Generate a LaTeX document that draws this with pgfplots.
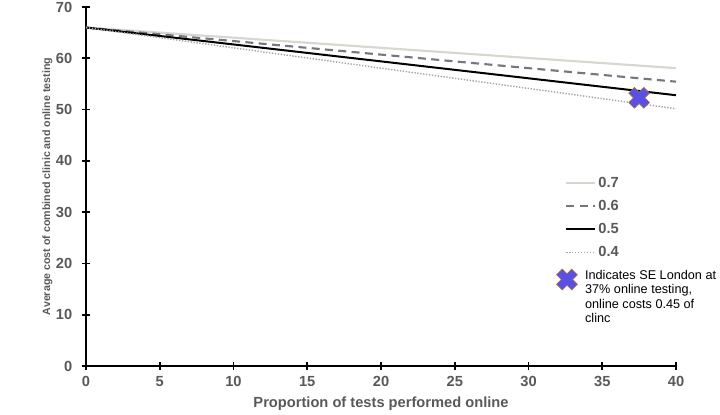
\documentclass[border=0pt]{standalone}
\usepackage{pgfplots}
\pgfplotsset{compat=1.18}
\usepackage{fontspec}
\setmainfont{Liberation Sans}
\definecolor{tickgray}{HTML}{595959}
\definecolor{l7}{HTML}{D9D5CF}
\definecolor{l6}{HTML}{767680}
\definecolor{l4}{HTML}{A6A6A6}
\definecolor{xblue}{HTML}{5A50E6}
\definecolor{xbrown}{HTML}{A0703A}
\pgfdeclareplotmark{fatx}{%
  \pgftransformrotate{45}%
  \pgfpathmoveto{\pgfpoint{3pt}{8pt}}%
  \pgfpathlineto{\pgfpoint{3pt}{3pt}}%
  \pgfpathlineto{\pgfpoint{8pt}{3pt}}%
  \pgfpathlineto{\pgfpoint{8pt}{-3pt}}%
  \pgfpathlineto{\pgfpoint{3pt}{-3pt}}%
  \pgfpathlineto{\pgfpoint{3pt}{-8pt}}%
  \pgfpathlineto{\pgfpoint{-3pt}{-8pt}}%
  \pgfpathlineto{\pgfpoint{-3pt}{-3pt}}%
  \pgfpathlineto{\pgfpoint{-8pt}{-3pt}}%
  \pgfpathlineto{\pgfpoint{-8pt}{3pt}}%
  \pgfpathlineto{\pgfpoint{-3pt}{3pt}}%
  \pgfpathlineto{\pgfpoint{-3pt}{8pt}}%
  \pgfpathclose
  \pgfusepathqfillstroke}
\pgfplotsset{
  lineimg/.style={legend image code/.code={\draw[##1] plot coordinates {(0cm,0cm) (0.75cm,0cm)};}},
  markimg/.style={legend image code/.code={\draw[##1,overlay,xshift=-8pt,yshift=-1.5pt] plot coordinates {(0.3cm,0cm)};}},
}
\begin{document}
\begin{tikzpicture}
\useasboundingbox (-64.5pt,-36pt) rectangle (475.5pt,274.5pt);
\begin{axis}[
  at={(0,0)}, anchor=origin,
  scale only axis, width=442.5pt, height=269.25pt,
  xmin=0, xmax=40, ymin=0, ymax=70,
  xtick={0,5,...,40}, ytick={0,10,...,70},
  axis x line*=bottom, axis y line*=left,
  axis line style={black, line width=1.5pt, -},
  xtick style={black, line width=1.2pt},
  ytick style={black, line width=1.2pt},
  xtick align=center, ytick align=center, major tick length=5.5pt,
  minor tick num=0,
  /pgf/number format/assume math mode=true,
  ticklabel style={font=\fontsize{11}{13}\selectfont\bfseries, text=tickgray},
  xticklabel style={yshift=-1.5pt},
  yticklabel style={xshift=-4pt},
  xlabel={Proportion of tests performed online},
  xlabel style={font=\fontsize{11}{13}\selectfont\bfseries, text=tickgray, at={(axis description cs:0.5,0)}, anchor=center, yshift=-28.5pt},
  ylabel={Average cost of combined clinic and online testing},
  ylabel style={font=\fontsize{8}{10}\selectfont\bfseries, text=tickgray, at={(axis description cs:0,0.5)}, anchor=center, yshift=29pt},
  legend cell align=left,
  legend style={draw=none, fill=none, at={(axis cs:32.47,37.45)}, anchor=north west,
    font=\fontsize{11}{13}\selectfont\bfseries, text=tickgray,
    row sep=4.2pt, inner sep=0pt},
  lineimg,
]
\addplot[l7, line width=1.6pt] coordinates {(0,66) (40,58.08)};
\addlegendentry{0.7}
\addplot[l6, line width=1.6pt, dash pattern=on 6pt off 4pt] coordinates {(0,66) (40,55.44)};
\addlegendentry{0.6}
\addplot[black, line width=1.5pt] coordinates {(0,66) (40,52.8)};
\addlegendentry{0.5}
\addplot[l4, line width=1.1pt, dash pattern=on 1pt off 1.2pt] coordinates {(0,66) (40,50.16)};
\addlegendentry{0.4}
\addplot[only marks, mark=fatx, mark options={fill=xblue, draw=xbrown, line width=0.5pt}, markimg]
  coordinates {(37.5,52.3)};
\addlegendentry{\hspace*{-10pt}\normalfont\fontsize{9.5}{10.7}\selectfont\color{black}\raisebox{3pt}{\begin{tabular}[t]{@{}l@{}}Indicates SE London at\\37\% online testing,\\online costs 0.45 of\\clinc\end{tabular}}}
\end{axis}
\end{tikzpicture}
\end{document}
